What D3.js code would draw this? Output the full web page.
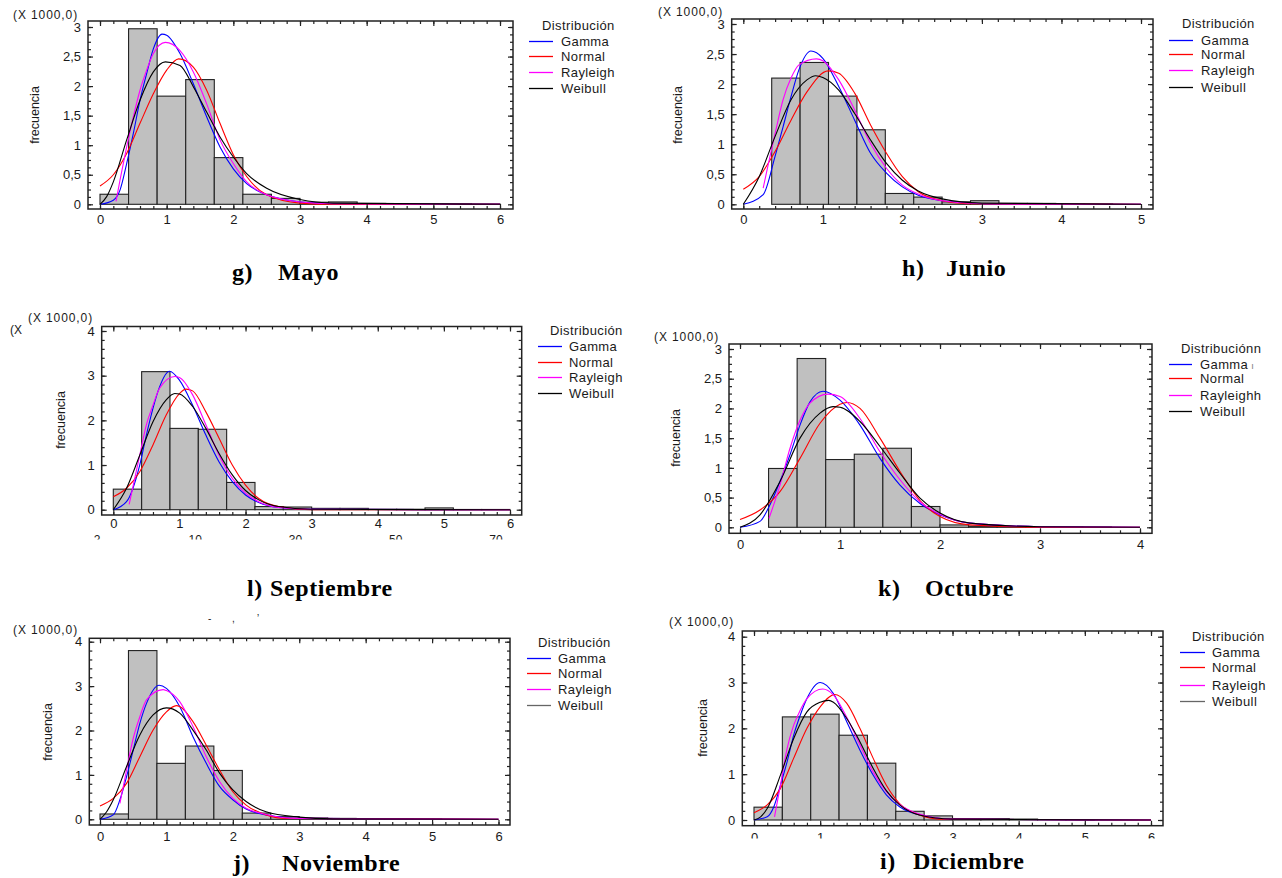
<!DOCTYPE html>
<html><head><meta charset="utf-8">
<script src="https://cdn.jsdelivr.net/npm/d3@7"></script>
<style>
body{margin:0;background:#fff}
svg{display:block}
text{font-family:"Liberation Sans",Arial,sans-serif;fill:#1a1a1a}
.cap{font-family:"Liberation Serif","Times New Roman",serif;font-weight:bold;font-size:24px;letter-spacing:0.6px;fill:#000}
</style>
</head><body>
<svg id="c" width="1282" height="878"></svg>
<script>
// ---------------- DATA ----------------
const legendTitle = "Distribución";
const seriesNames = ["Gamma", "Normal", "Rayleigh", "Weibull"];
const scaleNote = "(X 1000,0)";
const yAxisLabel = "frecuencia";

// Mayo
const mayoBinWidth = 0.4286;
const mayoBins = [0.17, 2.97, 1.83, 2.11, 0.79, 0.17, 0.10, 0.035, 0.04, 0.015, 0.01, 0.01, 0.01, 0.005];
const mayoGamma = [[0,0],[0.2,0.07],[0.3,0.24],[0.4,0.69],[0.5,1.2],[0.6,1.76],[0.7,2.21],[0.8,2.63],[0.93,2.88],[1.0,2.86],[1.2,2.55],[1.4,2.04],[1.6,1.48],[1.8,0.97],[2.0,0.6],[2.2,0.35],[2.5,0.16],[3.0,0.04],[3.5,0.01],[6,0]];
const mayoNormal = [[0,0.31],[0.2,0.5],[0.4,0.86],[0.6,1.37],[0.8,1.87],[1.0,2.27],[1.18,2.46],[1.4,2.32],[1.6,1.93],[1.8,1.37],[2.0,0.84],[2.2,0.47],[2.5,0.16],[3.0,0.02],[3.5,0],[6,0]];
const mayoRayleigh = [[0.24,0.05],[0.3,0.41],[0.4,0.97],[0.5,1.48],[0.6,1.93],[0.7,2.27],[0.8,2.55],[0.98,2.74],[1.2,2.6],[1.4,2.24],[1.6,1.7],[1.8,1.09],[2.0,0.69],[2.2,0.38],[2.5,0.16],[3.0,0.04],[3.5,0.01],[6,0]];
const mayoWeibull = [[0,0],[0.1,0.13],[0.2,0.38],[0.4,1.09],[0.6,1.76],[0.8,2.24],[0.98,2.41],[1.2,2.35],[1.4,1.99],[1.6,1.56],[1.8,1.14],[2.0,0.8],[2.2,0.52],[2.5,0.27],[3.0,0.08],[3.5,0.02],[6,0]];

// Junio
const junioBinWidth = 0.3571;
const junioBins = [0, 2.10, 2.36, 1.80, 1.24, 0.18, 0.12, 0.04, 0.06, 0.015, 0.015, 0.005, 0.005, 0];
const junioGamma = [[0,0],[0.25,0.16],[0.4,0.8],[0.5,1.29],[0.6,1.79],[0.7,2.24],[0.85,2.55],[1.0,2.43],[1.2,1.96],[1.4,1.4],[1.6,0.85],[1.8,0.52],[2.0,0.29],[2.2,0.15],[2.5,0.06],[3.0,0.01],[5,0]];
const junioNormal = [[0,0.25],[0.2,0.46],[0.4,0.88],[0.6,1.4],[0.8,1.87],[1.07,2.22],[1.2,2.18],[1.4,1.85],[1.6,1.32],[1.8,0.85],[2.0,0.46],[2.2,0.21],[2.5,0.06],[2.8,0.01],[5,0]];
const junioRayleigh = [[0.25,0.27],[0.4,1.18],[0.5,1.74],[0.6,2.1],[0.7,2.32],[0.92,2.42],[1.0,2.39],[1.2,2.07],[1.4,1.57],[1.6,1.01],[1.8,0.6],[2.0,0.32],[2.2,0.17],[2.5,0.06],[3.0,0.01],[5,0]];
const junioWeibull = [[0,0],[0.2,0.46],[0.4,1.13],[0.6,1.74],[0.8,2.07],[0.91,2.14],[1.0,2.11],[1.2,1.9],[1.4,1.51],[1.6,1.07],[1.8,0.68],[2.0,0.4],[2.2,0.22],[2.5,0.09],[3.0,0.02],[5,0]];

// Septiembre
const sepBinWidth = 0.4286;
const sepBins = [0.46, 3.09, 1.82, 1.80, 0.61, 0.07, 0.06, 0.03, 0.03, 0.01, 0.01, 0.04, 0.005, 0.005];
const sepGamma = [[0,0],[0.2,0.18],[0.4,1.0],[0.5,1.67],[0.6,2.27],[0.7,2.75],[0.85,3.1],[1.0,2.9],[1.2,2.34],[1.4,1.67],[1.6,1.07],[1.8,0.63],[2.0,0.33],[2.2,0.16],[2.5,0.05],[3.0,0.01],[6,0]];
const sepNormal = [[0,0.29],[0.2,0.48],[0.4,0.85],[0.6,1.45],[0.8,2.12],[1.0,2.6],[1.1,2.7],[1.2,2.66],[1.4,2.19],[1.6,1.6],[1.8,1.0],[2.0,0.55],[2.2,0.25],[2.5,0.07],[3.0,0],[6,0]];
const sepRayleigh = [[0.24,0.12],[0.4,1.22],[0.5,1.9],[0.6,2.34],[0.7,2.72],[0.93,2.98],[1.0,2.96],[1.2,2.57],[1.4,1.9],[1.6,1.22],[1.8,0.7],[2.0,0.37],[2.2,0.18],[2.5,0.05],[3.0,0.01],[6,0]];
const sepWeibull = [[0,0],[0.2,0.48],[0.4,1.22],[0.6,1.97],[0.8,2.46],[0.93,2.6],[1.0,2.59],[1.2,2.31],[1.4,1.82],[1.6,1.26],[1.8,0.78],[2.0,0.43],[2.2,0.22],[2.5,0.07],[3.0,0.01],[6,0]];
const sepGhostLabels = ["-2", "10", "30", "50", "70"];

// Octubre
const octBinWidth = 0.2857;
const octBins = [0, 0.99, 2.84, 1.14, 1.23, 1.33, 0.35, 0.04, 0.02, 0.01, 0.01, 0.01, 0.005, 0];
const octGamma = [[0,0],[0.2,0.1],[0.3,0.38],[0.4,0.77],[0.5,1.22],[0.6,1.72],[0.7,2.11],[0.83,2.29],[1.0,2.14],[1.2,1.72],[1.4,1.16],[1.6,0.71],[1.8,0.4],[2.0,0.21],[2.3,0.07],[3.0,0.01],[4,0]];
const octNormal = [[0,0.13],[0.2,0.29],[0.4,0.6],[0.6,1.16],[0.8,1.75],[1.0,2.07],[1.07,2.1],[1.2,2.0],[1.4,1.5],[1.6,0.94],[1.8,0.45],[2.0,0.18],[2.3,0.04],[3.0,0],[4,0]];
const octRayleigh = [[0.29,0.15],[0.4,0.71],[0.5,1.33],[0.6,1.8],[0.7,2.09],[0.88,2.24],[1.0,2.2],[1.2,1.83],[1.4,1.27],[1.6,0.8],[1.8,0.43],[2.0,0.22],[2.3,0.07],[3.0,0.01],[4,0]];
const octWeibull = [[0,0],[0.2,0.21],[0.4,0.77],[0.6,1.5],[0.8,1.92],[0.93,2.03],[1.0,2.02],[1.2,1.78],[1.4,1.36],[1.6,0.91],[1.8,0.49],[2.0,0.24],[2.3,0.07],[3.0,0.01],[4,0]];

// Noviembre
const novBinWidth = 0.4286;
const novBins = [0.12, 3.80, 1.26, 1.65, 1.10, 0.14, 0.06, 0.03, 0.02, 0.01, 0.01, 0.005, 0, 0];
const novGamma = [[0,0],[0.2,0.1],[0.3,0.44],[0.4,0.96],[0.5,1.56],[0.6,2.16],[0.7,2.61],[0.89,3.02],[1.0,2.95],[1.2,2.54],[1.4,1.86],[1.6,1.26],[1.8,0.74],[2.0,0.44],[2.2,0.23],[2.5,0.1],[3.0,0.02],[6,0]];
const novNormal = [[0,0.3],[0.2,0.47],[0.4,0.81],[0.6,1.41],[0.8,2.01],[1.0,2.42],[1.15,2.56],[1.2,2.54],[1.4,2.2],[1.6,1.67],[1.8,1.11],[2.0,0.62],[2.2,0.32],[2.5,0.1],[2.8,0.02],[6,0]];
const novRayleigh = [[0.3,0.36],[0.4,1.11],[0.5,1.82],[0.6,2.31],[0.7,2.69],[0.95,2.92],[1.0,2.9],[1.2,2.65],[1.4,2.09],[1.6,1.41],[1.8,0.85],[2.0,0.47],[2.2,0.25],[2.5,0.11],[3.0,0.02],[6,0]];
const novWeibull = [[0,0],[0.1,0.17],[0.2,0.44],[0.4,1.19],[0.6,1.9],[0.8,2.35],[1.0,2.51],[1.2,2.39],[1.4,2.01],[1.6,1.56],[1.8,1.04],[2.0,0.66],[2.2,0.4],[2.5,0.17],[3.0,0.05],[3.5,0.01],[6,0]];

// Diciembre
const dicBinWidth = 0.4286;
const dicBins = [0.28, 2.25, 2.31, 1.85, 1.24, 0.19, 0.09, 0.03, 0.03, 0.02, 0.005, 0.005, 0, 0];
const dicGamma = [[0,0],[0.2,0.07],[0.3,0.29],[0.4,0.76],[0.5,1.27],[0.6,1.85],[0.7,2.29],[0.8,2.65],[1.0,3.0],[1.2,2.76],[1.4,2.15],[1.6,1.53],[1.8,0.98],[2.0,0.55],[2.2,0.29],[2.5,0.11],[3.0,0.02],[6,0]];
const dicNormal = [[0,0.16],[0.2,0.33],[0.4,0.69],[0.6,1.35],[0.8,2.0],[1.0,2.47],[1.22,2.74],[1.4,2.55],[1.6,2.0],[1.8,1.35],[2.0,0.76],[2.2,0.36],[2.5,0.11],[2.8,0.02],[6,0]];
const dicRayleigh = [[0.31,0.07],[0.4,0.76],[0.5,1.56],[0.6,2.07],[0.7,2.4],[0.8,2.65],[1.04,2.86],[1.2,2.73],[1.4,2.25],[1.6,1.64],[1.8,1.05],[2.0,0.62],[2.2,0.34],[2.5,0.13],[3.0,0.02],[6,0]];
const dicWeibull = [[0,0],[0.1,0.07],[0.2,0.25],[0.4,0.98],[0.6,1.78],[0.8,2.36],[1.0,2.57],[1.13,2.61],[1.2,2.57],[1.4,2.22],[1.6,1.71],[1.8,1.13],[2.0,0.64],[2.2,0.33],[2.5,0.11],[3.0,0.02],[6,0]];

// tick values
const ticksX6 = [0,1,2,3,4,5,6];
const ticksX5 = [0,1,2,3,4,5];
const ticksX4 = [0,1,2,3,4];
const ticksY3 = [0,0.5,1,1.5,2,2.5,3];
const ticksY4 = [0,1,2,3,4];

// ---------------- LAYOUT ----------------
const colors = ["#0000ff", "#ff0000", "#ff00ff", "#000000"];
const panels = [
  {bins:mayoBins, bw:mayoBinWidth, curves:[mayoGamma,mayoNormal,mayoRayleigh,mayoWeibull], xt:ticksX6, yt:ticksY3, yMinorSub:4,
   cap:["g)","Mayo"], L:{fl:88,ft:21,fr:513,fb:209,x0:100,x1:500,y0:204.3,y1:27,xPad:6,
   note:[13,18.5], ylab:[39,115], leg:[542,561,529,553,30,[46,61,77,93]], capPos:[232,278,280]}},
  {bins:junioBins, bw:junioBinWidth, curves:[junioGamma,junioNormal,junioRayleigh,junioWeibull], xt:ticksX5, yt:ticksY3, yMinorSub:4,
   cap:["h)","Junio"], L:{fl:731.7,ft:19,fr:1153,fb:209,x0:743.3,x1:1141,y0:204.3,y1:24,xPad:6,
   note:[658,15.5], ylab:[681.5,115], leg:[1182,1201,1169,1193,28,[45,59,75,92]], capPos:[902,946,276]}},
  {bins:sepBins, bw:sepBinWidth, curves:[sepGamma,sepNormal,sepRayleigh,sepWeibull], xt:ticksX6, yt:ticksY4, yMinorSub:5,
   cap:["l)","Septiembre"], L:{fl:101.7,ft:326.5,fr:521.7,fb:515,x0:113.3,x1:510,y0:509.7,y1:331,xPad:4,
   note:[28,322], ylab:[65,420], leg:[550,569,538,562,335,[351,367,382,398]], capPos:[247,270,596]}},
  {bins:octBins, bw:octBinWidth, curves:[octGamma,octNormal,octRayleigh,octWeibull], xt:ticksX4, yt:ticksY3, yMinorSub:4,
   cap:["k)","Octubre"], L:{fl:729,ft:344,fr:1152,fb:533.3,x0:740,x1:1140,y0:527.3,y1:349,xPad:6,
   note:[654,340.5], ylab:[680,438], leg:[1181,1200,1169,1192,353,[369,383,400,416]], capPos:[878,925,596]}},
  {bins:novBins, bw:novBinWidth, curves:[novGamma,novNormal,novRayleigh,novWeibull], xt:ticksX6, yt:ticksY4, yMinorSub:5,
   cap:["j)","Noviembre"], L:{fl:89.3,ft:638.3,fr:510,fb:825,x0:100,x1:498.5,y0:819.3,y1:641.7,xPad:7,clipX:841,
   note:[13,634], ylab:[52,732], leg:[538,558,527,551,647,[663,678,694,710]], capPos:[233,282,871]}},
  {bins:dicBins, bw:dicBinWidth, curves:[dicGamma,dicNormal,dicRayleigh,dicWeibull], xt:ticksX6, yt:ticksY4, yMinorSub:5,
   cap:["i)","Diciembre"], L:{fl:742.3,ft:631,fr:1163,fb:825.7,x0:754,x1:1151,y0:820,y1:636.7,xPad:7,clipX:838.5,
   note:[669,626], ylab:[706.5,728], leg:[1192,1212,1180,1205,641,[657,672,690,706]], capPos:[880,913,869]}}
];

const fmt = d => String(d).replace(".", ",");
const svg = d3.select("#c");
const defs = svg.append("defs");

panels.forEach((p, pi) => {
  const L = p.L;
  const g = svg.append("g");
  const xMax = p.xt[p.xt.length-1];
  const yMax = p.yt[p.yt.length-1];
  const x = d3.scaleLinear().domain([0, xMax]).range([L.x0, L.x1]);
  const y = d3.scaleLinear().domain([0, yMax]).range([L.y0, L.y1]);

  // bars
  g.append("g").selectAll("rect")
    .data(p.bins.map((v,i)=>({v,i})).filter(d=>d.v>0))
    .join("rect")
    .attr("x", d => x(d.i*p.bw))
    .attr("width", x(p.bw) - x(0))
    .attr("y", d => y(d.v))
    .attr("height", d => y(0) - y(d.v))
    .attr("fill", "#c0c0c0").attr("stroke", "#222").attr("stroke-width", 1.1);

  // curves
  const line = d3.line().x(d=>x(d[0])).y(d=>y(d[1])).curve(d3.curveMonotoneX);
  p.curves.forEach((c, ci) => {
    g.append("path").attr("d", line(c)).attr("fill","none")
      .attr("stroke", colors[ci]).attr("stroke-width", 1.1);
  });

  // frame
  g.append("rect").attr("x",L.fl).attr("y",L.ft).attr("width",L.fr-L.fl).attr("height",L.fb-L.ft)
    .attr("fill","none").attr("stroke","#222").attr("stroke-width",1.5);

  const xMinor = d3.range(0, xMax+1e-9, 0.2);
  const yMinor = d3.range(0, yMax+1e-9, (p.yt[1]-p.yt[0])/p.yMinorSub);

  function ax(gen, tx, ty, vals, size, labels, pad) {
    const a = g.append("g").attr("transform",`translate(${tx},${ty})`)
      .call(gen.tickValues(vals).tickSize(size).tickSizeOuter(0).tickPadding(pad||0)
        .tickFormat(labels ? fmt : ""));
    a.select(".domain").remove();
    a.selectAll("line").attr("stroke","#222").attr("stroke-width",1.2);
    a.selectAll("text").attr("font-size",13).attr("fill","#1a1a1a")
      .attr("font-family",'"Liberation Sans",Arial,sans-serif');
    return a;
  }
  ax(d3.axisLeft(y), L.fl, 0, p.yt, -5, true, 7);
  ax(d3.axisLeft(y), L.fl, 0, yMinor, -3, false);
  ax(d3.axisRight(y), L.fr, 0, p.yt, -5, false);
  ax(d3.axisRight(y), L.fr, 0, yMinor, -3, false);
  const xb = ax(d3.axisBottom(x), 0, L.fb, p.xt, -5, true, L.xPad);
  if (L.clipX) {
    const id = "clipx" + pi;
    defs.append("clipPath").attr("id", id).append("rect")
      .attr("x", L.fl - 20).attr("y", -10).attr("width", L.fr - L.fl + 40).attr("height", L.clipX - L.fb + 10);
    xb.attr("clip-path", `url(#${id})`);
  }
  ax(d3.axisBottom(x), 0, L.fb, xMinor, -3, false);
  ax(d3.axisTop(x), 0, L.ft, p.xt, -5, false);
  ax(d3.axisTop(x), 0, L.ft, xMinor, -3, false);

  // scale note
  g.append("text").attr("x",L.note[0]).attr("y",L.note[1]).attr("font-size",12)
    .attr("letter-spacing",0.9).text(scaleNote);
  // y label
  g.append("text").attr("transform",`translate(${L.ylab[0]},${L.ylab[1]}) rotate(-90)`)
    .attr("text-anchor","middle").attr("font-size",12.5).text(yAxisLabel);

  // legend
  const [tx, lx, l0, l1, ty, rows] = L.leg;
  const title = g.append("text").attr("x",tx).attr("y",ty).attr("font-size",13).attr("letter-spacing",0.4).text(legendTitle);
  const items = seriesNames.map((n,i) => {
    g.append("line").attr("x1",l0).attr("x2",l1).attr("y1",rows[i]-4.5).attr("y2",rows[i]-4.5)
      .attr("stroke", (i===3 && pi>=4) ? "#666" : colors[i]).attr("stroke-width",1.3);
    return g.append("text").attr("x",lx).attr("y",rows[i]).attr("font-size",13).attr("letter-spacing",0.4).text(n);
  });

  // caption
  g.append("text").attr("class","cap").attr("x",L.capPos[0]).attr("y",L.capPos[2]).text(p.cap[0]);
  g.append("text").attr("class","cap").attr("x",L.capPos[1]).attr("y",L.capPos[2]).text(p.cap[1]);

  // panel-specific leftovers visible in the original figure
  if (pi === 2) {
    g.append("text").attr("x",10).attr("y",334).attr("font-size",12).text("(X");
    const gx = d3.scalePoint().domain(sepGhostLabels).range([95, 496]);
    defs.append("clipPath").attr("id","ghostclip").append("rect")
      .attr("x",60).attr("y",530).attr("width",480).attr("height",9.5);
    g.append("g").attr("clip-path","url(#ghostclip)")
      .selectAll("text").data(sepGhostLabels).join("text")
      .attr("x", d => gx(d)).attr("y", 544).attr("text-anchor","middle")
      .attr("font-size",12).attr("fill","#444").text(d => d);
  }
  if (pi === 3) {
    // doubled glyphs seen in this legend
    title.append("tspan").text("n");
    items[0].append("tspan").attr("dx",3).attr("font-size",9).attr("fill","#777").text("ı");
    items[2].append("tspan").text("h");
  }
  if (pi === 4) {
    [["‐",208],[",",232],["ʼ",257]].forEach(([s,xx]) =>
      g.append("text").attr("x",xx).attr("y",622).attr("font-size",10).attr("fill","#888").text(s));
  }
});
</script>
</body></html>
